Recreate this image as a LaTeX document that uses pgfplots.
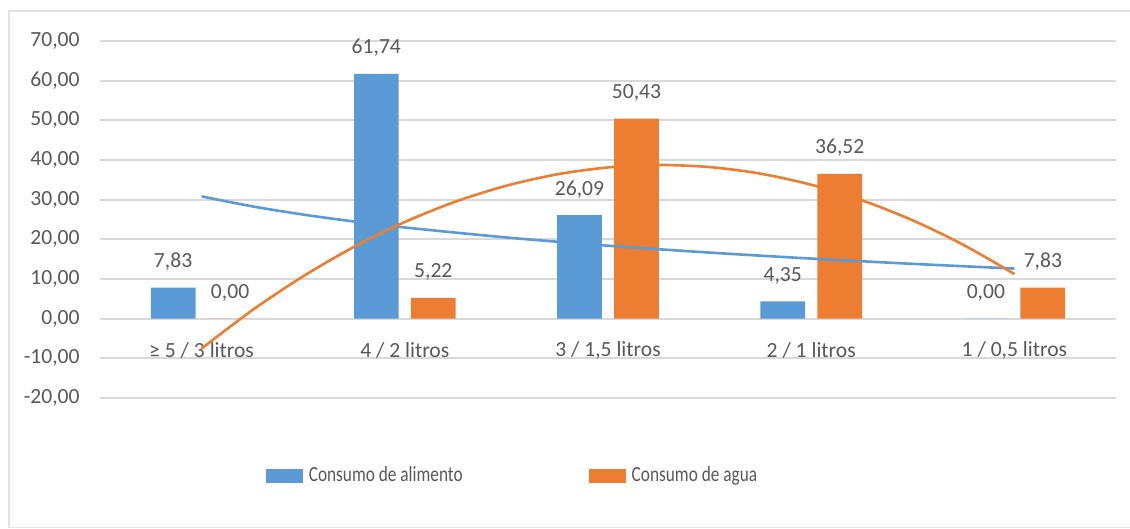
\documentclass[border=0pt]{standalone}
\usepackage{fontspec}
\setmainfont{Carlito}
\newfontfamily\legfont[FakeStretch=0.8]{Carlito}
\usepackage{pgfplots}
\pgfplotsset{compat=1.18}
\definecolor{cblue}{HTML}{5B9BD5}
\definecolor{corange}{HTML}{ED7D31}
\definecolor{ctext}{HTML}{595959}
\definecolor{cgrid}{HTML}{D9D9D9}
\begin{document}
\begin{tikzpicture}
\useasboundingbox (0,0) rectangle (565pt,264.5pt);
\fill[white] (0,0) rectangle (565pt,264.5pt);
\draw[cgrid!80, line width=0.6pt] (4.5pt,0.5pt) -- (4.5pt,259pt) -- (565pt,259pt);
\draw[cgrid!60, line width=0.5pt] (4.5pt,0.5pt) -- (565pt,0.5pt);
\begin{axis}[
  at={(50pt,65.5pt)}, anchor=south west,
  scale only axis, width=508pt, height=178.5pt,
  xmin=0.5, xmax=5.5, ymin=-20, ymax=70,
  xtick={1,2,3,4,5},
  xticklabels={≥ 5 / 3 litros, 4 / 2 litros, 3 / 1{,}5 litros, 2 / 1 litros, 1 / 0{,}5 litros},
  ytick={-20,-10,...,70},
  axis line style={draw=none},
  major tick length=0pt,
  ymajorgrids, grid style={cgrid, line width=1pt},
  font=\fontsize{10.8}{12}\selectfont,
  tick label style={text=ctext, font=\fontsize{10.8}{12}\selectfont},
  xticklabel style={anchor=center, yshift=24pt},
  yticklabel style={anchor=east, inner sep=0pt, xshift=-10pt},
  /pgf/number format/.cd, use comma, fixed, fixed zerofill, precision=2, 1000 sep={}, assume math mode=true,
  /pgfplots/.cd,
  legend columns=2,
  legend style={at={(0.406,-0.218)}, anchor=center, draw=none, fill=none,
    font=\legfont\fontsize{10.8}{12}\selectfont, text=ctext,
    /tikz/every even column/.append style={column sep=62pt},
    /tikz/every odd column/.append style={column sep=2pt},
    nodes={inner sep=1pt}},
  legend image code/.code={\fill[#1] (0pt,-3.5pt) rectangle (18.5pt,3.5pt);},
  clip=false,
]
\addplot[ybar, bar width=0.22, bar shift=-0.14, fill=cblue, draw=none,
  nodes near coords,
  nodes near coords style={anchor=center, xshift=-14.25pt, yshift=13pt, text=ctext, font=\fontsize{10.8}{12}\selectfont}]
  coordinates {(1,7.83) (2,61.74) (3,26.09) (4,4.35) (5,0.00)};
\addlegendentry{Consumo de alimento}
\addplot[ybar, bar width=0.22, bar shift=0.14, fill=corange, draw=none,
  nodes near coords,
  nodes near coords style={anchor=center, xshift=14.25pt, yshift=13pt, text=ctext, font=\fontsize{10.8}{12}\selectfont}]
  coordinates {(1,0.00) (2,5.22) (3,50.43) (4,36.52) (5,7.83)};
\addlegendentry{Consumo de agua}
% trend lines
\addplot[cblue, line width=1.3pt, smooth, no marks, forget plot]
  coordinates {(1,30.83) (1.25,28.31) (1.5,26.24) (1.75,24.50) (2,22.99) (2.5,20.47) (3,18.40) (3.5,16.66) (4,15.15) (4.5,13.82) (5,12.63)};
\addplot[corange, line width=1.3pt, smooth, no marks, forget plot]
  coordinates {(1,-7.53) (1.25,2.15) (1.5,10.69) (1.75,18.10) (2,24.37) (2.25,29.51) (2.5,33.52) (2.75,36.39) (3,38.13) (3.25,38.74) (3.5,38.22) (3.75,36.56) (4,33.76) (4.25,29.84) (4.5,24.78) (4.75,18.58) (5,11.26)};
\end{axis}
\end{tikzpicture}
\end{document}
